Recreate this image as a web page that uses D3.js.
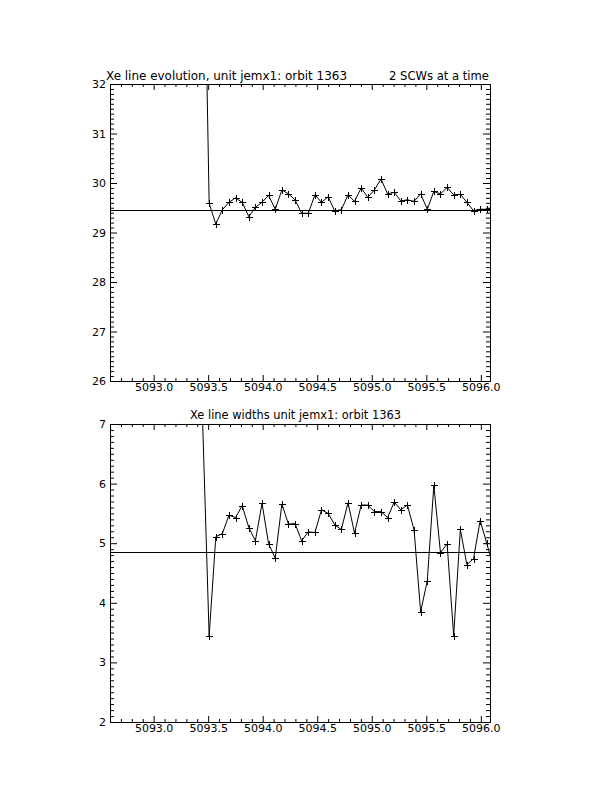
<!DOCTYPE html>
<html>
<head>
<meta charset="utf-8">
<script src="https://cdn.jsdelivr.net/npm/d3@7"></script>
<style>
  html, body { margin: 0; padding: 0; background: #fff; }
  svg { display: block; }
  text { font-family: "DejaVu Sans", sans-serif; fill: #000; }
</style>
</head>
<body>
<svg id="chart" width="612" height="792"></svg>
<script>
// ---------------- data ----------------
const times = [
  5093.430,
  5093.509, 5093.570, 5093.630, 5093.691, 5093.751, 5093.812, 5093.873, 5093.933,
  5093.994, 5094.054, 5094.115, 5094.176, 5094.236, 5094.297, 5094.357, 5094.418,
  5094.479, 5094.539, 5094.600, 5094.660, 5094.721, 5094.782, 5094.842, 5094.903,
  5094.963, 5095.024, 5095.085, 5095.145, 5095.206, 5095.266, 5095.327, 5095.388,
  5095.448, 5095.509, 5095.569, 5095.630, 5095.691, 5095.751, 5095.812, 5095.872,
  5095.933, 5095.994, 5096.054,
  5096.115
];
const lineEnergy = [
  39.3,
  29.59, 29.17, 29.46, 29.61, 29.70, 29.61, 29.32, 29.51,
  29.61, 29.75, 29.47, 29.86, 29.78, 29.66, 29.39, 29.39,
  29.76, 29.61, 29.72, 29.44, 29.46, 29.76, 29.63, 29.90,
  29.71, 29.86, 30.08, 29.78, 29.81, 29.64, 29.66, 29.63,
  29.78, 29.47, 29.83, 29.78, 29.91, 29.76, 29.77, 29.61,
  29.44, 29.47, 29.47,
  29.50
];
const lineWidth = [
  8.2,
  3.44, 5.11, 5.16, 5.47, 5.43, 5.63, 5.26, 5.04,
  5.67, 4.99, 4.75, 5.66, 5.32, 5.33, 5.04, 5.19,
  5.18, 5.56, 5.50, 5.31, 5.23, 5.68, 5.17, 5.64,
  5.64, 5.53, 5.53, 5.43, 5.69, 5.56, 5.64, 5.22,
  3.85, 4.37, 5.97, 4.84, 4.99, 3.45, 5.23, 4.64,
  4.74, 5.38, 5.00,
  4.60
];
const energyMean = 29.45;
const widthMean = 4.85;

const xDomain = [5092.6, 5096.084];
const xTicks = [5093.0, 5093.5, 5094.0, 5094.5, 5095.0, 5095.5, 5096.0];
const xMinorTicks = [5092.7, 5092.8, 5092.9, 5093.1, 5093.2, 5093.3, 5093.4, 5093.6, 5093.7, 5093.8, 5093.9,
  5094.1, 5094.2, 5094.3, 5094.4, 5094.6, 5094.7, 5094.8, 5094.9, 5095.1, 5095.2, 5095.3, 5095.4,
  5095.6, 5095.7, 5095.8, 5095.9];

const topYDomain = [26, 32];
const topYTicks = [26, 27, 28, 29, 30, 31, 32];
const bottomYDomain = [2, 7];
const bottomYTicks = [2, 3, 4, 5, 6, 7];

const topTitleLeft = "Xe line evolution, unit jemx1: orbit 1363";
const topTitleRight = "2 SCWs at a time";
const bottomTitle = "Xe line widths unit jemx1: orbit 1363";

// ---------------- drawing ----------------
const svg = d3.select("#chart");
svg.append("rect").attr("width", 612).attr("height", 792).attr("fill", "#fff");

const X0 = 110, X1 = 490;
const x = d3.scaleLinear().domain(xDomain).range([X0, X1]);

function minorRange(domain, step) {
  const out = [];
  const n = Math.round((domain[1] - domain[0]) / step);
  for (let i = 1; i < n; i++) out.push(domain[0] + i * step);
  return out;
}

function drawPanel(id, yDomain, yTicks, yTop, yBot, values, meanVal) {
  const y = d3.scaleLinear().domain(yDomain).range([yBot, yTop]);
  const g = svg.append("g");
  const clipId = "clip-" + id;
  svg.append("clipPath").attr("id", clipId)
    .append("rect").attr("x", X0).attr("y", yTop).attr("width", X1 - X0).attr("height", yBot - yTop);

  const yMinor = minorRange(yDomain, 0.1).filter(v => Math.abs(v - Math.round(v)) > 1e-6);

  const styleAxis = sel => {
    sel.selectAll("path.domain").attr("stroke", "#000").attr("stroke-width", 1);
    sel.selectAll("line").attr("stroke", "#000").attr("stroke-width", 1);
    sel.selectAll("text").style("font-family", "DejaVu Sans, sans-serif").attr("font-size", 11).attr("fill", "#000");
  };

  // bottom axis (labelled)
  g.append("g").attr("transform", `translate(0,${yBot})`)
    .call(d3.axisBottom(x).tickValues(xTicks).tickSize(-6).tickSizeOuter(0).tickPadding(2.5).tickFormat(d3.format(".1f")))
    .call(styleAxis);
  g.append("g").attr("transform", `translate(0,${yBot})`)
    .call(d3.axisBottom(x).tickValues(xMinorTicks).tickSize(-3).tickSizeOuter(0).tickFormat(""))
    .call(styleAxis);
  // top axis
  g.append("g").attr("transform", `translate(0,${yTop})`)
    .call(d3.axisTop(x).tickValues(xTicks).tickSize(-6).tickSizeOuter(0).tickFormat(""))
    .call(styleAxis);
  g.append("g").attr("transform", `translate(0,${yTop})`)
    .call(d3.axisTop(x).tickValues(xMinorTicks).tickSize(-3).tickSizeOuter(0).tickFormat(""))
    .call(styleAxis);
  // left axis (labelled)
  g.append("g").attr("transform", `translate(${X0},0)`)
    .call(d3.axisLeft(y).tickValues(yTicks).tickSize(-7).tickSizeOuter(0).tickPadding(4).tickFormat(d3.format("d")))
    .call(styleAxis);
  g.append("g").attr("transform", `translate(${X0},0)`)
    .call(d3.axisLeft(y).tickValues(yMinor).tickSize(-4).tickSizeOuter(0).tickFormat(""))
    .call(styleAxis);
  // right axis
  g.append("g").attr("transform", `translate(${X1},0)`)
    .call(d3.axisRight(y).tickValues(yTicks).tickSize(-7).tickSizeOuter(0).tickFormat(""))
    .call(styleAxis);
  g.append("g").attr("transform", `translate(${X1},0)`)
    .call(d3.axisRight(y).tickValues(yMinor).tickSize(-4).tickSizeOuter(0).tickFormat(""))
    .call(styleAxis);

  const plot = g.append("g").attr("clip-path", `url(#${clipId})`);

  // mean line
  plot.append("line")
    .attr("x1", X0).attr("x2", X1)
    .attr("y1", Math.round(y(meanVal)) + 0.5).attr("y2", Math.round(y(meanVal)) + 0.5)
    .attr("stroke", "#000").attr("stroke-width", 1);

  const pts = times.map((t, i) => [t, values[i]]);
  const line = d3.line().x(d => x(d[0])).y(d => y(d[1]));
  plot.append("path").datum(pts).attr("d", line)
    .attr("fill", "none").attr("stroke", "#000").attr("stroke-width", 1);

  const s = 3.5;
  plot.selectAll("path.plus").data(pts).enter().append("path")
    .attr("class", "plus")
    .attr("d", d => {
      const cx = Math.round(x(d[0])) + 0.5, cy = Math.round(y(d[1])) + 0.5;
      return `M${cx - s},${cy}H${cx + s}M${cx},${cy - s}V${cy + s}`;
    })
    .attr("stroke", "#000").attr("stroke-width", 1).attr("fill", "none");
  return y;
}

drawPanel("top", topYDomain, topYTicks, 84, 381, lineEnergy, energyMean);
drawPanel("bottom", bottomYDomain, bottomYTicks, 424, 722, lineWidth, widthMean);

// titles
svg.append("text").attr("x", 106).attr("y", 80).attr("font-size", 11.5)
  .attr("textLength", 241).attr("lengthAdjust", "spacingAndGlyphs").text(topTitleLeft);
svg.append("text").attr("x", 389).attr("y", 80).attr("font-size", 11.5)
  .attr("textLength", 100).attr("lengthAdjust", "spacingAndGlyphs").text(topTitleRight);
svg.append("text").attr("x", 190).attr("y", 419).attr("font-size", 11.5)
  .attr("textLength", 211).attr("lengthAdjust", "spacingAndGlyphs").text(bottomTitle);
</script>
</body>
</html>
